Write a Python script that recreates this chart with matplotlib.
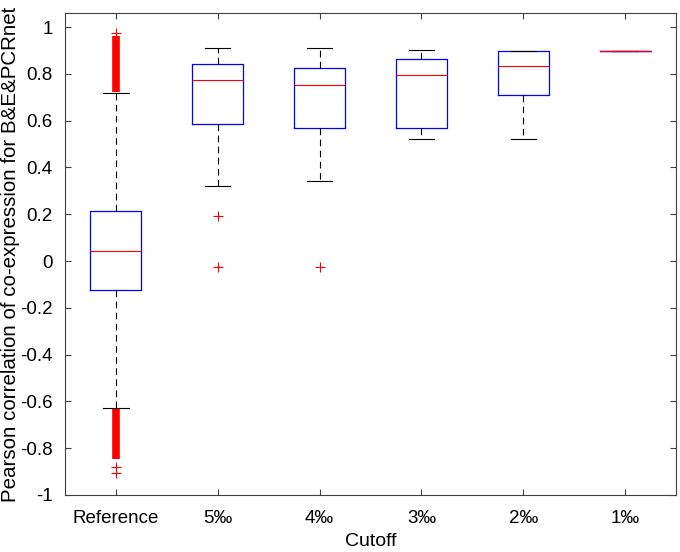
import matplotlib.pyplot as plt

plt.rcParams['font.family'] = ['Liberation Sans', 'DejaVu Sans']

# groups along the x axis
labels = ['Reference', '5‰', '4‰', '3‰', '2‰', '1‰']

# box statistics
medians = [0.043, 0.775, 0.752, 0.796, 0.835, 0.897]
q1s = [-0.124, 0.587, 0.570, 0.570, 0.709, 0.897]
q3s = [0.214, 0.840, 0.826, 0.865, 0.899, 0.897]
whis_lo = [-0.627, 0.322, 0.340, 0.523, 0.523, 0.897]
whis_hi = [0.718, 0.910, 0.910, 0.900, 0.899, 0.897]
outliers = [[0.974, -0.879, -0.906], [0.192, -0.024], [-0.024], [], [], []]

# dense runs of outliers for the Reference group (drawn as solid bands)
band_lo = [0.722, -0.846]
band_hi = [0.962, -0.632]

stats = []
for i in range(len(labels)):
    stats.append({'med': medians[i], 'q1': q1s[i], 'q3': q3s[i],
                  'whislo': whis_lo[i], 'whishi': whis_hi[i],
                  'fliers': outliers[i], 'label': labels[i]})

fig = plt.figure(figsize=(6.8, 5.52), dpi=100)
ax = fig.add_axes([0.0956, 0.1033, 0.8985, 0.8731])

ax.vlines([1, 1], band_lo, band_hi, color='red', linewidth=5.5, zorder=3)

ax.bxp(stats, positions=range(1, 7), widths=0.5, capwidths=0.25,
       boxprops=dict(color='blue', linewidth=0.9),
       medianprops=dict(color='red', linewidth=0.8),
       whiskerprops=dict(color='black', linewidth=0.8, linestyle=(0, (6, 4))),
       capprops=dict(color='black', linewidth=0.8),
       flierprops=dict(marker='+', markeredgecolor='red', markersize=7,
                       linestyle='none', markeredgewidth=0.8))

ax.set_xlim(0.5, 6.5)
ax.set_ylim(-1.0, 1.06)
yt = [1, 0.8, 0.6, 0.4, 0.2, 0, -0.2, -0.4, -0.6, -0.8, -1]
ax.set_yticks(yt)
ax.set_yticklabels(['1', '0.8', '0.6', '0.4', '0.2', '0', '-0.2', '-0.4',
                    '-0.6', '-0.8', '-1'])
ax.set_xticks(range(1, 7))
ax.set_xticklabels(labels)

ax.tick_params(direction='in', top=True, right=True, labelsize=13.5,
               length=4, width=0.8, color='#404040')
ax.tick_params(axis='x', pad=11)
ax.tick_params(axis='y', pad=9)
for s in ax.spines.values():
    s.set_color('#404040')
    s.set_linewidth(0.8)

ax.set_xlabel('Cutoff', fontsize=14, labelpad=4)
ax.set_ylabel('Pearson correlation of co-expression for B&E&PCRnet',
              fontsize=14.8, labelpad=0)

fig.savefig('out.png', dpi=100)
